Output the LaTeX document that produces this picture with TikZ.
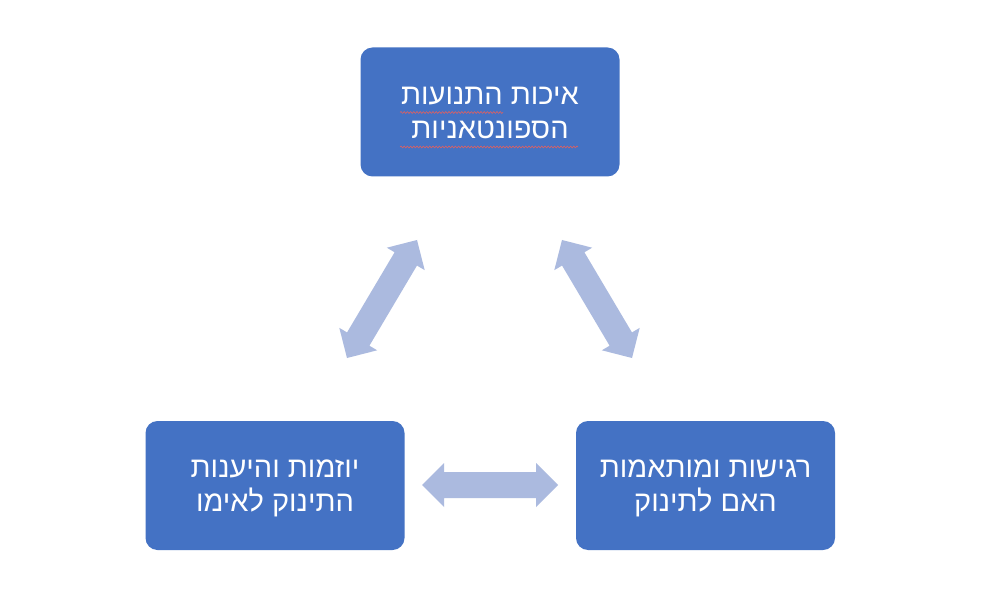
\documentclass[tikz,border=0pt]{standalone}
\usepackage{fontspec}
\newfontfamily\hebfont[Script=Hebrew]{Liberation Sans}
\TeXXeTstate=1
\usetikzlibrary{calc,decorations.pathmorphing}
\definecolor{boxblue}{HTML}{4472C4}
\definecolor{arrowblue}{HTML}{ABBADF}
\definecolor{spellred}{HTML}{E06060}
\tikzset{
  card/.style={fill=boxblue, draw=none, rounded corners=12pt, minimum width=259pt, minimum height=129pt, inner sep=0pt},
  cardtext/.style={text=white, align=center, font=\hebfont\fontsize{29}{34.5}\selectfont, inner sep=0pt},
  arrowfill/.style={fill=arrowblue, draw=none},
  squiggle/.style={draw=spellred, line width=0.6pt, decorate, decoration={snake, segment length=3.2pt, amplitude=0.9pt}}
}
\newcommand{\blockarrow}[2]{%
  \fill[arrowfill] (#1)
    -- ($(#1)!22pt!(#2)!22pt!90:(#2)$)
    -- ($(#1)!22pt!(#2)!13pt!90:(#2)$)
    -- ($(#2)!22pt!(#1)!13pt!-90:(#1)$)
    -- ($(#2)!22pt!(#1)!22pt!-90:(#1)$)
    -- (#2)
    -- ($(#2)!22pt!(#1)!22pt!90:(#1)$)
    -- ($(#2)!22pt!(#1)!13pt!90:(#1)$)
    -- ($(#1)!22pt!(#2)!13pt!-90:(#2)$)
    -- ($(#1)!22pt!(#2)!22pt!-90:(#2)$)
    -- cycle;}
\begin{document}
\begin{tikzpicture}[x=1pt,y=-1pt]
  \useasboundingbox (0,0) rectangle (1003,609);
  \fill[white] (0,0) rectangle (1003,609);
  \node[card] (top) at (490,112) {};
  \node[card] (bl) at (275,485.5) {};
  \node[card] (br) at (705.5,485.5) {};
  \node[cardtext] (toptext) at ([yshift=-1pt]top.center) {\beginR איכות התנועות\endR\\\beginR הספונטאניות\endR};
  \node[cardtext] (bltext) at ([yshift=-3pt]bl.center) {\beginR יוזמות והיענות\endR\\\beginR התינוק לאימו\endR};
  \node[cardtext] (brtext) at ([yshift=-3pt]br.center) {\beginR רגישות ומותאמות\endR\\\beginR האם לתינוק\endR};
  % arrow end points
  \coordinate (a1s) at (417,240);
  \coordinate (a1e) at (347,358);
  \coordinate (a2s) at (562,240);
  \coordinate (a2e) at (632,358);
  \coordinate (a3s) at (422,485);
  \coordinate (a3e) at (558,485);
  \blockarrow{a1s}{a1e}
  \blockarrow{a2s}{a2e}
  \blockarrow{a3s}{a3e}
  % spell-check marks
  \draw[squiggle] (400,112.5) -- (503,112.5);
  \draw[squiggle] (400,147) -- (578,147);
\end{tikzpicture}
\end{document}
